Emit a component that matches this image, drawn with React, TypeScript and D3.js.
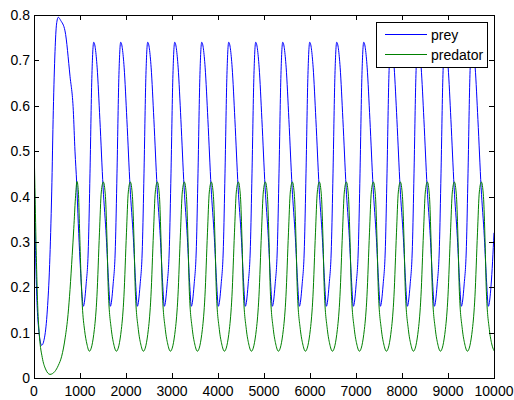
import React from "react";
import * as d3 from "d3";

const preyTime = [
  0, 30, 60, 100, 167, 230, 290, 340, 385, 420, 457, 490, 528, 580, 674, 783, 854, 891, 928, 963, 1000, 1040,
  1072, 1132, 1182, 1217, 1257, 1298, 1372, 1432, 1502, 1572, 1622,
  1659, 1719, 1769, 1804, 1844, 1885, 1959, 2019, 2089, 2159, 2209,
  2246, 2306, 2356, 2391, 2431, 2472, 2546, 2606, 2676, 2746, 2796,
  2833, 2893, 2943, 2978, 3018, 3059, 3133, 3193, 3263, 3333, 3383,
  3420, 3480, 3530, 3565, 3605, 3646, 3720, 3780, 3850, 3920, 3970,
  4007, 4067, 4117, 4152, 4192, 4233, 4307, 4367, 4437, 4507, 4557,
  4594, 4654, 4704, 4739, 4779, 4820, 4894, 4954, 5024, 5094, 5144,
  5181, 5241, 5291, 5326, 5366, 5407, 5481, 5541, 5611, 5681, 5731,
  5768, 5828, 5878, 5913, 5953, 5994, 6068, 6128, 6198, 6268, 6318,
  6355, 6415, 6465, 6500, 6540, 6581, 6655, 6715, 6785, 6855, 6905,
  6942, 7002, 7052, 7087, 7127, 7168, 7242, 7302, 7372, 7442, 7492,
  7529, 7589, 7639, 7674, 7714, 7755, 7829, 7889, 7959, 8029, 8079,
  8116, 8176, 8226, 8261, 8301, 8342, 8416, 8476, 8546, 8616, 8666,
  8703, 8763, 8813, 8848, 8888, 8929, 9003, 9063, 9133, 9203, 9253,
  9290, 9350, 9400, 9435, 9475, 9516, 9590, 9650, 9720, 9790, 9840,
  9877, 9937, 10000,
];
const preyValue = [
  0.5, 0.3, 0.18, 0.11, 0.072, 0.09, 0.15, 0.25, 0.41, 0.59, 0.72, 0.78, 0.795, 0.788, 0.765, 0.665, 0.59, 0.5, 0.43, 0.34, 0.26, 0.19,
  0.158, 0.205, 0.29, 0.45, 0.66, 0.74, 0.685, 0.57, 0.42, 0.31, 0.21,
  0.158, 0.205, 0.29, 0.45, 0.66, 0.74, 0.685, 0.57, 0.42, 0.31, 0.21,
  0.158, 0.205, 0.29, 0.45, 0.66, 0.74, 0.685, 0.57, 0.42, 0.31, 0.21,
  0.158, 0.205, 0.29, 0.45, 0.66, 0.74, 0.685, 0.57, 0.42, 0.31, 0.21,
  0.158, 0.205, 0.29, 0.45, 0.66, 0.74, 0.685, 0.57, 0.42, 0.31, 0.21,
  0.158, 0.205, 0.29, 0.45, 0.66, 0.74, 0.685, 0.57, 0.42, 0.31, 0.21,
  0.158, 0.205, 0.29, 0.45, 0.66, 0.74, 0.685, 0.57, 0.42, 0.31, 0.21,
  0.158, 0.205, 0.29, 0.45, 0.66, 0.74, 0.685, 0.57, 0.42, 0.31, 0.21,
  0.158, 0.205, 0.29, 0.45, 0.66, 0.74, 0.685, 0.57, 0.42, 0.31, 0.21,
  0.158, 0.205, 0.29, 0.45, 0.66, 0.74, 0.685, 0.57, 0.42, 0.31, 0.21,
  0.158, 0.205, 0.29, 0.45, 0.66, 0.74, 0.685, 0.57, 0.42, 0.31, 0.21,
  0.158, 0.205, 0.29, 0.45, 0.66, 0.74, 0.685, 0.57, 0.42, 0.31, 0.21,
  0.158, 0.205, 0.29, 0.45, 0.66, 0.74, 0.685, 0.57, 0.42, 0.31, 0.21,
  0.158, 0.205, 0.29, 0.45, 0.66, 0.74, 0.685, 0.57, 0.42, 0.31, 0.21,
  0.158, 0.205, 0.29, 0.45, 0.66, 0.74, 0.685, 0.57, 0.42, 0.31, 0.21,
  0.158, 0.205, 0.32,
];

const predatorTime = [
  0, 20, 50, 80, 120, 180, 250, 348, 450, 530, 602, 680, 740, 783, 830, 865, 900, 935, 965, 990, 1020, 1050, 1100, 1150,
  1203, 1312, 1368, 1423, 1463, 1507, 1553, 1588, 1616, 1681, 1733,
  1790, 1899, 1955, 2010, 2050, 2094, 2140, 2175, 2203, 2268, 2320,
  2377, 2486, 2542, 2597, 2637, 2681, 2727, 2762, 2790, 2855, 2907,
  2964, 3073, 3129, 3184, 3224, 3268, 3314, 3349, 3377, 3442, 3494,
  3551, 3660, 3716, 3771, 3811, 3855, 3901, 3936, 3964, 4029, 4081,
  4138, 4247, 4303, 4358, 4398, 4442, 4488, 4523, 4551, 4616, 4668,
  4725, 4834, 4890, 4945, 4985, 5029, 5075, 5110, 5138, 5203, 5255,
  5312, 5421, 5477, 5532, 5572, 5616, 5662, 5697, 5725, 5790, 5842,
  5899, 6008, 6064, 6119, 6159, 6203, 6249, 6284, 6312, 6377, 6429,
  6486, 6595, 6651, 6706, 6746, 6790, 6836, 6871, 6899, 6964, 7016,
  7073, 7182, 7238, 7293, 7333, 7377, 7423, 7458, 7486, 7551, 7603,
  7660, 7769, 7825, 7880, 7920, 7964, 8010, 8045, 8073, 8138, 8190,
  8247, 8356, 8412, 8467, 8507, 8551, 8597, 8632, 8660, 8725, 8777,
  8834, 8943, 8999, 9054, 9094, 9138, 9184, 9219, 9247, 9312, 9364,
  9421, 9530, 9586, 9641, 9681, 9725, 9771, 9806, 9834, 9899, 9951,
  10000,
];
const predatorValue = [
  0.52, 0.42, 0.27, 0.16, 0.09, 0.045, 0.02, 0.008, 0.014, 0.028, 0.048, 0.09, 0.14, 0.195, 0.27, 0.33, 0.395, 0.433, 0.41, 0.33, 0.23, 0.16, 0.105, 0.075,
  0.059, 0.107, 0.18, 0.32, 0.41, 0.432, 0.4, 0.3, 0.19, 0.107, 0.075,
  0.059, 0.107, 0.18, 0.32, 0.41, 0.432, 0.4, 0.3, 0.19, 0.107, 0.075,
  0.059, 0.107, 0.18, 0.32, 0.41, 0.432, 0.4, 0.3, 0.19, 0.107, 0.075,
  0.059, 0.107, 0.18, 0.32, 0.41, 0.432, 0.4, 0.3, 0.19, 0.107, 0.075,
  0.059, 0.107, 0.18, 0.32, 0.41, 0.432, 0.4, 0.3, 0.19, 0.107, 0.075,
  0.059, 0.107, 0.18, 0.32, 0.41, 0.432, 0.4, 0.3, 0.19, 0.107, 0.075,
  0.059, 0.107, 0.18, 0.32, 0.41, 0.432, 0.4, 0.3, 0.19, 0.107, 0.075,
  0.059, 0.107, 0.18, 0.32, 0.41, 0.432, 0.4, 0.3, 0.19, 0.107, 0.075,
  0.059, 0.107, 0.18, 0.32, 0.41, 0.432, 0.4, 0.3, 0.19, 0.107, 0.075,
  0.059, 0.107, 0.18, 0.32, 0.41, 0.432, 0.4, 0.3, 0.19, 0.107, 0.075,
  0.059, 0.107, 0.18, 0.32, 0.41, 0.432, 0.4, 0.3, 0.19, 0.107, 0.075,
  0.059, 0.107, 0.18, 0.32, 0.41, 0.432, 0.4, 0.3, 0.19, 0.107, 0.075,
  0.059, 0.107, 0.18, 0.32, 0.41, 0.432, 0.4, 0.3, 0.19, 0.107, 0.075,
  0.059, 0.107, 0.18, 0.32, 0.41, 0.432, 0.4, 0.3, 0.19, 0.107, 0.075,
  0.059, 0.107, 0.18, 0.32, 0.41, 0.432, 0.4, 0.3, 0.19, 0.107, 0.075,
  0.06,
];

const xTicks = [0, 1000, 2000, 3000, 4000, 5000, 6000, 7000, 8000, 9000, 10000];
const yTicks = [0, 0.1, 0.2, 0.3, 0.4, 0.5, 0.6, 0.7, 0.8];
const seriesNames = ["prey", "predator"];
const seriesColors = ["#0000ff", "#008000"];

const W = 514;
const H = 400;
const L = 34;
const R = 494;
const T = 15;
const B = 378;
const TICK = 5;
const FONT = "'Liberation Sans', Arial, Helvetica, sans-serif";

export default function App() {
  const x = d3.scaleLinear().domain([0, 10000]).range([L, R]);
  const y = d3.scaleLinear().domain([0, 0.8]).range([B, T]);
  const line = d3
    .line<[number, number]>()
    .x((d) => x(d[0]))
    .y((d) => y(d[1]))
    .curve(d3.curveMonotoneX);

  const prey: [number, number][] = preyTime.map((t, i) => [t, preyValue[i]]);
  const predator: [number, number][] = predatorTime.map((t, i) => [t, predatorValue[i]]);

  return (
    <svg
      width={W}
      height={H}
      style={{ position: "absolute", left: 0, top: 0, background: "#fff" }}
      fontFamily={FONT}
    >
      <rect x={0} y={0} width={W} height={H} fill="#fff" />
      <defs>
        <clipPath id="plotclip">
          <rect x={L} y={T} width={R - L} height={B - T} />
        </clipPath>
      </defs>
      <g clipPath="url(#plotclip)">
        <path d={line(prey) || ""} fill="none" stroke={seriesColors[0]} strokeWidth={1} />
        <path d={line(predator) || ""} fill="none" stroke={seriesColors[1]} strokeWidth={1} />
      </g>
      {/* box */}
      <rect x={L + 0.5} y={T + 0.5} width={R - L} height={B - T} fill="none" stroke="#000" strokeWidth={1} />
      {/* x ticks */}
      {xTicks.map((t) => {
        const px = Math.round(x(t)) + 0.5;
        return (
          <g key={"x" + t}>
            <line x1={px} x2={px} y1={B} y2={B - TICK} stroke="#000" />
            <line x1={px} x2={px} y1={T} y2={T + TICK} stroke="#000" />
            <text x={x(t)} y={396} fontSize={14} textAnchor="middle" fill="#000">
              {String(t)}
            </text>
          </g>
        );
      })}
      {yTicks.map((t) => {
        const py = Math.round(y(t)) + 0.5;
        return (
          <g key={"y" + t}>
            <line x1={L} x2={L + TICK} y1={py} y2={py} stroke="#000" />
            <line x1={R} x2={R - TICK} y1={py} y2={py} stroke="#000" />
            <text x={30} y={y(t) + 5} fontSize={14} textAnchor="end" fill="#000">
              {t === 0 ? "0" : d3.format(".1f")(t)}
            </text>
          </g>
        );
      })}
      {/* legend */}
      <rect x={376.5} y={22.5} width={111} height={45} fill="#fff" stroke="#000" strokeWidth={1} />
      {seriesNames.map((n, i) => (
        <g key={n}>
          <line x1={385} x2={427} y1={34.5 + i * 20} y2={34.5 + i * 20} stroke={seriesColors[i]} strokeWidth={1} />
          <text x={431} y={39.5 + i * 20} fontSize={14} fill="#000">
            {n}
          </text>
        </g>
      ))}
    </svg>
  );
}
